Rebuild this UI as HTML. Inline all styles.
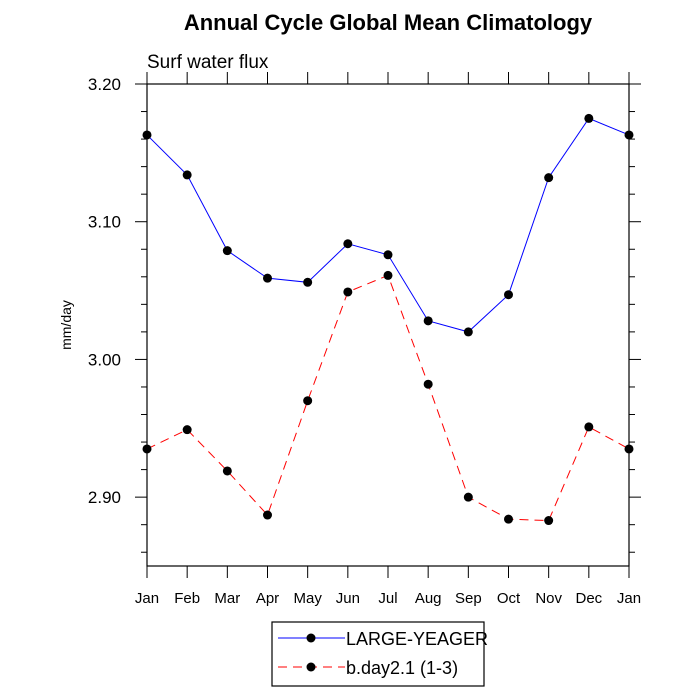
<!DOCTYPE html>
<html><head><meta charset="utf-8"><style>body{margin:0;background:#fff}svg{display:block;font-family:"Liberation Sans",sans-serif}</style></head>
<body>
<svg id="chart" width="700" height="700" viewBox="0 0 700 700">
<text x="388" y="30" text-anchor="middle" font-size="22" font-weight="bold">Annual Cycle Global Mean Climatology</text>
<text x="147" y="68" font-size="19">Surf water flux</text>
<text transform="translate(71,325) rotate(-90)" text-anchor="middle" font-size="14">mm/day</text>
<rect x="147" y="84" width="482" height="482" fill="none" stroke="#000" stroke-width="1.2"/>
<g id="axes"></g>
<g id="series"></g>
<g>
<rect x="272" y="622" width="212" height="64" fill="none" stroke="#000" stroke-width="1.2"/>
<line x1="278" y1="638" x2="345" y2="638" stroke="#00f" stroke-width="1"/>
<circle cx="311" cy="638" r="4.5"/>
<text x="346" y="645" font-size="18">LARGE-YEAGER</text>
<line x1="278" y1="667" x2="345" y2="667" stroke="#f00" stroke-width="1" stroke-dasharray="9,6"/>
<circle cx="311" cy="667" r="4.5"/>
<text x="346" y="674" font-size="18">b.day2.1 (1-3)</text>
</g>
</svg>
<script>
const months = ["Jan","Feb","Mar","Apr","May","Jun","Jul","Aug","Sep","Oct","Nov","Dec","Jan"];
const largeYeager = [3.163,3.134,3.079,3.059,3.056,3.084,3.076,3.028,3.020,3.047,3.132,3.175,3.163];
const bday21 = [2.935,2.949,2.919,2.887,2.970,3.049,3.061,2.982,2.900,2.884,2.883,2.951,2.935];
const yTicks = [2.90,3.00,3.10,3.20];
const yTickLabels = ["2.90","3.00","3.10","3.20"];
const yMin = 2.85, yMax = 3.20;
const L=147,R=629,T=84,B=566;
const NS="http://www.w3.org/2000/svg";
const xs = i => L + i*(R-L)/(months.length-1);
const ys = v => B - (v-yMin)/(yMax-yMin)*(B-T);
function mk(tag, attrs, parent){const e=document.createElementNS(NS,tag);for(const k in attrs)e.setAttribute(k,attrs[k]);parent.appendChild(e);return e;}
const axes=document.getElementById('axes');
months.forEach((m,i)=>{
  const x=xs(i);
  const t1=mk('line',{x1:x,y1:B,x2:x,y2:B+12,stroke:'#000'},axes);
  
  
  mk('line',{x1:x,y1:T,x2:x,y2:T-12,stroke:'#000'},axes);
  const tx=mk('text',{x:x,y:B+37,'text-anchor':'middle','font-size':'15'},axes);
  tx.textContent=m;
  
  
});
for(let k=0;k<=17;k++){
  const v=2.86+k*0.02; if(v>yMax+1e-9) break;
  const y=ys(v);
  const major=yTicks.some(t=>Math.abs(t-v)<1e-6);
  const len=major?12:6;
  mk('line',{x1:L,y1:y,x2:L-len,y2:y,stroke:'#000'},axes);
  mk('line',{x1:R,y1:y,x2:R+len,y2:y,stroke:'#000'},axes);
}
yTicks.forEach((v,i)=>{
  const tx=mk('text',{x:L-26,y:ys(v)+6,'text-anchor':'end','font-size':'17'},axes);
  tx.textContent=yTickLabels[i];
  
  
});
const series=document.getElementById('series');
function draw(vals,color,dash,name){
  const pts=vals.map((v,i)=>xs(i)+','+ys(v)).join(' ');
  const pl=mk('polyline',{points:pts,fill:'none',stroke:color,'stroke-width':1,'stroke-dasharray':dash},series);
  
  
  vals.forEach((v,i)=>{
    const c=mk('circle',{cx:xs(i),cy:ys(v),r:4.5,fill:'#000'},series);
    
    
  });
}
draw(largeYeager,'#00f','none','large-yeager');
draw(bday21,'#f00','9,6','bday21');
</script>
</body></html>
